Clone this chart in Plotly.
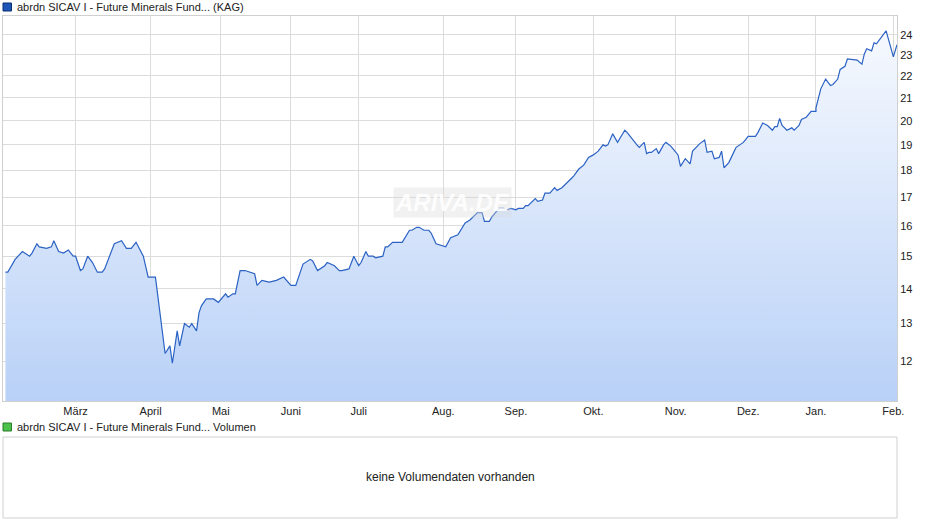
import plotly.graph_objects as go
import math

dates = ["2025-01-31","2025-02-01","2025-02-04","2025-02-07","2025-02-10","2025-02-11","2025-02-13","2025-02-14","2025-02-17","2025-02-19","2025-02-20","2025-02-22","2025-02-24","2025-02-26","2025-02-28",
"2025-03-01","2025-03-03","2025-03-04","2025-03-06","2025-03-08","2025-03-10","2025-03-12","2025-03-13","2025-03-17","2025-03-20","2025-03-22","2025-03-24","2025-03-26","2025-03-29","2025-03-31",
"2025-04-03","2025-04-04","2025-04-07","2025-04-09","2025-04-10","2025-04-12","2025-04-13","2025-04-15","2025-04-17","2025-04-18","2025-04-20","2025-04-21","2025-04-22","2025-04-24","2025-04-27","2025-04-29",
"2025-05-02","2025-05-03","2025-05-05","2025-05-06","2025-05-08","2025-05-10","2025-05-14","2025-05-15","2025-05-17","2025-05-20","2025-05-23","2025-05-26",
"2025-05-29","2025-05-31","2025-06-03","2025-06-06","2025-06-07","2025-06-09","2025-06-12","2025-06-13","2025-06-16","2025-06-18","2025-06-19","2025-06-22","2025-06-24",
"2025-06-26","2025-06-27","2025-06-29","2025-06-30","2025-07-02","2025-07-03","2025-07-06","2025-07-07","2025-07-08","2025-07-10","2025-07-14","2025-07-17","2025-07-18","2025-07-20","2025-07-21","2025-07-23","2025-07-25","2025-07-26","2025-07-28",
"2025-08-01","2025-08-03","2025-08-06","2025-08-09","2025-08-11","2025-08-14","2025-08-16","2025-08-17","2025-08-19","2025-08-20","2025-08-23","2025-08-25","2025-08-26","2025-08-28",
"2025-08-30","2025-08-31","2025-09-02","2025-09-03","2025-09-04","2025-09-07","2025-09-08","2025-09-10","2025-09-11","2025-09-13","2025-09-15","2025-09-16","2025-09-18","2025-09-22","2025-09-23","2025-09-25","2025-09-27","2025-09-29",
"2025-10-01","2025-10-03","2025-10-05","2025-10-06","2025-10-07","2025-10-09","2025-10-11","2025-10-14","2025-10-15","2025-10-19","2025-10-20","2025-10-22","2025-10-23","2025-10-24","2025-10-25","2025-10-27","2025-10-28","2025-10-30","2025-10-31","2025-11-02",
"2025-11-05","2025-11-06","2025-11-08","2025-11-10","2025-11-11","2025-11-13","2025-11-14","2025-11-16","2025-11-17","2025-11-19","2025-11-20","2025-11-22","2025-11-23","2025-11-24","2025-11-26","2025-11-28","2025-11-29","2025-12-02",
"2025-12-04","2025-12-07","2025-12-08","2025-12-10","2025-12-12","2025-12-14","2025-12-15","2025-12-16","2025-12-17","2025-12-18","2025-12-20","2025-12-22","2025-12-23","2025-12-25","2025-12-26","2025-12-28","2025-12-30","2026-01-01",
"2026-01-01","2026-01-03","2026-01-05","2026-01-07","2026-01-08","2026-01-10","2026-01-11","2026-01-13","2026-01-14","2026-01-18","2026-01-20","2026-01-21","2026-01-22","2026-01-24","2026-01-25","2026-01-26","2026-01-30","2026-02-02","2026-02-03 12:00"]

prices = [14.5,14.5,14.9,15.15,15.0,15.1,15.4,15.3,15.25,15.3,15.5,15.15,15.1,15.2,15.0,
15.0,14.55,14.6,15.0,14.8,14.5,14.5,14.6,15.4,15.5,15.25,15.25,15.45,15.0,14.35,
14.35,13.8,12.2,12.4,11.95,12.8,12.4,13.0,12.9,13.0,12.8,13.3,13.5,13.7,13.7,13.6,
13.85,13.75,13.85,13.85,14.55,14.55,14.45,14.1,14.25,14.2,14.25,14.35,
14.1,14.1,14.75,14.9,14.85,14.55,14.7,14.8,14.7,14.55,14.55,14.6,15.0,
14.7,14.8,15.15,15.0,15.0,14.95,15.0,15.3,15.3,15.45,15.45,15.85,15.85,15.95,15.95,15.85,15.85,15.75,15.4,
15.3,15.6,15.7,16.1,16.2,16.45,16.45,16.15,16.15,16.3,16.6,16.6,16.55,16.6,
16.55,16.6,16.6,16.7,16.7,16.95,16.85,16.9,17.15,17.15,17.35,17.25,17.35,17.7,17.8,18.05,18.2,18.5,
18.6,18.75,19.0,18.95,19.0,19.45,19.1,19.6,19.5,19.0,18.9,19.1,18.65,18.7,18.7,18.85,18.65,19.0,19.1,18.95,
18.6,18.15,18.45,18.25,18.75,18.95,19.05,19.2,18.7,18.75,18.45,18.5,18.75,18.1,18.3,18.7,18.9,19.1,
19.35,19.35,19.5,19.9,19.8,19.6,19.75,19.75,20.1,19.8,19.6,19.7,19.6,19.8,20.05,20.15,20.4,20.4,
20.55,21.4,21.85,21.55,21.6,21.85,22.3,22.45,22.8,22.75,22.55,23.05,23.3,23.2,23.6,23.55,24.2,22.9,23.5]

# month-label positions (trading-day scale of the source chart mapped onto calendar time)
tick_vals = ["2025-03-01","2025-04-01","2025-04-30","2025-05-29","2025-06-26","2025-07-31","2025-08-30","2025-10-01","2025-11-04","2025-12-04","2026-01-01","2026-02-02"]
tick_text = ["März","April","Mai","Juni","Juli","Aug.","Sep.","Okt.","Nov.","Dez.","Jan.","Feb."]
y_ticks = [12,13,14,15,16,17,18,19,20,21,22,23,24]

YMIN, YMAX = 11.03, 24.98

fig = go.Figure()
fig.add_trace(go.Scatter(x=dates, y=[YMIN]*len(dates), mode="lines", line=dict(width=0), hoverinfo="skip", showlegend=False))
fig.add_trace(go.Scatter(x=dates, y=prices, mode="lines", line=dict(color="#2b62c4", width=1.2),
                         fill="tonexty",
                         fillgradient=dict(type="vertical", colorscale=[[0, "#b9d1f7"], [1, "#f6f9fe"]]),
                         showlegend=False))

fig.update_layout(
    width=940, height=526, margin=dict(l=3, r=43, t=16, b=125),
    paper_bgcolor="white", plot_bgcolor="white",
    font=dict(family="Liberation Sans, Arial, sans-serif", size=11, color="#222"),
    xaxis=dict(type="date", range=["2025-01-30", "2026-02-03 12:00"], tickvals=tick_vals, ticktext=tick_text,
               showgrid=True, gridcolor="#dcdcdc", gridwidth=1, showline=True, linecolor="#d0d0d0", mirror=True,
               ticks="", ticklen=0, zeroline=False),
    yaxis=dict(type="log", range=[math.log10(YMIN), math.log10(YMAX)], side="right", tickvals=y_ticks,
               ticktext=[str(v) for v in y_ticks], showgrid=True, gridcolor="#dcdcdc",
               showline=True, linecolor="#d0d0d0", mirror=True, ticks="", zeroline=False),
    showlegend=False,
)

H = 385.0
def py(pix):
    return (401 - pix) / H

shapes = [
    dict(type="rect", xref="paper", yref="paper", x0=0, x1=0.0095, y0=py(11), y1=py(3), fillcolor="#1d55b8", line=dict(color="#0b2f73", width=1)),
    dict(type="rect", xref="paper", yref="paper", x0=0, x1=0.0095, y0=py(431), y1=py(423), fillcolor="#4bc24b", line=dict(color="#2a7d2a", width=1)),
    dict(type="rect", xref="paper", yref="paper", x0=0, x1=1, y0=py(518), y1=py(437), fillcolor="white", line=dict(color="#d0d0d0", width=1)),
]
fig.update_layout(shapes=shapes)
fig.add_annotation(xref="paper", yref="paper", x=0.013, y=py(7), xanchor="left", yanchor="middle",
                   text="abrdn SICAV I - Future Minerals Fund... (KAG)", showarrow=False, font=dict(size=11, color="#222"))
fig.add_annotation(xref="paper", yref="paper", x=0.013, y=py(427), xanchor="left", yanchor="middle",
                   text="abrdn SICAV I - Future Minerals Fund... Volumen", showarrow=False, font=dict(size=11, color="#222"))
fig.add_annotation(xref="paper", yref="paper", x=0.5, y=py(477), xanchor="center", yanchor="middle",
                   text="keine Volumendaten vorhanden", showarrow=False, font=dict(size=12, color="#222"))
fig.add_annotation(xref="paper", yref="paper", x=(452 - 3) / 894, y=py(202), xanchor="center", yanchor="middle",
                   text="<b><i>ARIVA.DE</i></b>", showarrow=False, font=dict(size=24, color="rgba(255,255,255,0.9)"),
                   bgcolor="rgba(215,215,215,0.35)", borderpad=1)

fig.write_html("out.html", config={"displayModeBar": False})
with open("out.html", encoding="utf-8") as f:
    html = f.read()
html = html.replace("<body>", '<body style="margin:0;padding:0">', 1)
with open("out.html", "w", encoding="utf-8") as f:
    f.write(html)
